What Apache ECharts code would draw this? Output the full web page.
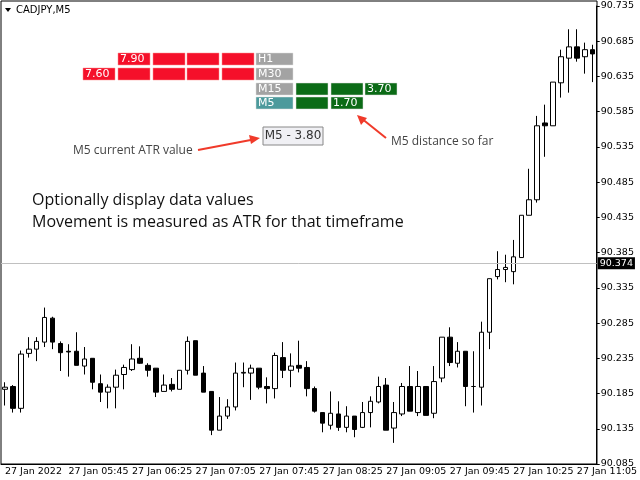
<!DOCTYPE html>
<html>
<head>
  <meta charset="utf-8">
  <title>CADJPY M5</title>
  <script src="https://cdn.jsdelivr.net/npm/echarts@6/dist/echarts.min.js"></script>
  <style>
    html,body { margin:0; padding:0; background:#fff; }
  </style>
</head>
<body>
  <div id="main" style="width:640px;height:480px;"></div>
  <script>
    // candle data: [open, close, low, high]
    var candles = [
      [90.191,90.194,90.168,90.201],[90.195,90.164,90.158,90.197],[90.164,90.241,90.158,90.246],
      [90.242,90.248,90.236,90.265],[90.248,90.259,90.231,90.265],[90.258,90.293,90.251,90.307],
      [90.292,90.258,90.248,90.294],[90.256,90.243,90.217,90.259],[90.245,90.244,90.209,90.255],
      [90.245,90.225,90.225,90.272],[90.224,90.234,90.212,90.251],[90.235,90.201,90.191,90.235],
      [90.199,90.187,90.173,90.212],[90.187,90.194,90.164,90.198],[90.194,90.211,90.164,90.219],
      [90.212,90.222,90.191,90.226],[90.219,90.234,90.217,90.255],[90.235,90.228,90.227,90.252],
      [90.225,90.218,90.209,90.228],[90.221,90.187,90.180,90.221],[90.188,90.197,90.188,90.212],
      [90.198,90.191,90.188,90.207],[90.191,90.218,90.191,90.218],[90.218,90.259,90.212,90.266],
      [90.260,90.211,90.211,90.260],[90.214,90.187,90.187,90.224],[90.188,90.133,90.126,90.188],
      [90.133,90.153,90.133,90.180],[90.153,90.166,90.149,90.177],[90.166,90.214,90.161,90.229],
      [90.214,90.215,90.194,90.229],[90.214,90.221,90.176,90.226],[90.221,90.194,90.191,90.221],
      [90.195,90.192,90.171,90.208],[90.192,90.239,90.178,90.243],[90.236,90.218,90.207,90.258],
      [90.218,90.224,90.194,90.242],[90.225,90.221,90.215,90.260],[90.222,90.192,90.181,90.231],
      [90.192,90.160,90.158,90.195],[90.158,90.143,90.130,90.158],[90.140,90.157,90.134,90.188],
      [90.156,90.137,90.132,90.174],[90.137,90.153,90.130,90.167],[90.153,90.134,90.123,90.153],
      [90.137,90.158,90.136,90.173],[90.158,90.174,90.137,90.181],[90.173,90.195,90.171,90.209],
      [90.197,90.133,90.133,90.207],[90.136,90.158,90.115,90.173],[90.156,90.195,90.153,90.200],
      [90.195,90.160,90.160,90.224],[90.158,90.195,90.153,90.217],[90.195,90.154,90.154,90.195],
      [90.157,90.202,90.150,90.224],[90.207,90.265,90.201,90.265],[90.265,90.229,90.224,90.279],
      [90.228,90.245,90.222,90.258],[90.245,90.195,90.167,90.245],[90.195,90.195,90.158,90.245],
      [90.194,90.272,90.168,90.287],[90.272,90.348,90.248,90.348],[90.351,90.361,90.347,90.387],
      [90.361,90.364,90.343,90.382],[90.358,90.379,90.340,90.403],[90.378,90.438,90.378,90.438],
      [90.438,90.460,90.438,90.504],[90.460,90.565,90.456,90.579],[90.569,90.565,90.521,90.595],
      [90.565,90.627,90.565,90.627],[90.626,90.663,90.605,90.673],[90.661,90.677,90.612,90.702],
      [90.677,90.661,90.656,90.702],[90.663,90.673,90.639,90.683],[90.673,90.667,90.627,90.680]
    ];
    var timeLabels = ['27 Jan 2022','27 Jan 05:45','27 Jan 06:25','27 Jan 07:05','27 Jan 07:45',
      '27 Jan 08:25','27 Jan 09:05','27 Jan 09:45','27 Jan 10:25','27 Jan 11:05'];
    var priceTicks = [90.085,90.135,90.185,90.235,90.285,90.335,90.385,90.435,90.485,90.535,90.585,90.635,90.685,90.735];
    var levelPrice = 90.374;

    // one category per candle, labelled every 8th
    var categories = [];
    for (var i = 0; i < candles.length; i++) {
      categories.push(i % 8 === 0 ? timeLabels[i / 8] : '');
    }

    var red = '#f5102a', grey = '#a3a3a3', green = '#0b6b16', teal = '#4c9a9c';
    var graphics = [];
    function box(x, w, y, fill, txt) {
      graphics.push({
        type: 'rect', shape: { x: x, y: y, width: w, height: 12 },
        style: { fill: fill, stroke: fill === red ? '#ff9090' : '#ddd', lineWidth: 0.5 }, z: 10
      });
      if (txt) {
        graphics.push({ type: 'text', x: x + 2, y: y + 6.5,
          style: { text: txt, fill: '#fff', font: '11px "DejaVu Sans"', verticalAlign: 'middle' }, z: 11 });
      }
    }
    var redXs = [118, 153, 187, 222];
    redXs.forEach(function (x, k) { box(x, 32, 53, red, k === 0 ? '7.90' : ''); });
    box(83, 32, 68, red, '7.60');
    redXs.forEach(function (x) { box(x, 32, 68, red); });
    box(256, 37, 53, grey, 'H1');
    box(256, 37, 68, grey, 'M30');
    box(256, 37, 83, grey, 'M15');
    box(296, 32, 83, green); box(331, 32, 83, green); box(365, 32, 83, green, '3.70');
    box(256, 37, 97, teal, 'M5');
    box(296, 32, 97, green); box(331, 32, 97, green, '1.70');
    graphics.push(
      { type: 'rect', shape: { x: 263, y: 127, width: 60, height: 18 }, style: { fill: '#f0f0f4', stroke: '#888' }, z: 10 },
      { type: 'text', x: 293, y: 136, style: { text: 'M5 - 3.80', fill: '#333', font: '12px "DejaVu Sans"', align: 'center', verticalAlign: 'middle' }, z: 11 },
      { type: 'text', x: 73, y: 151, style: { text: 'M5 current ATR value', fill: '#444', font: '12px "Open Sans"', verticalAlign: 'middle' }, z: 11 },
      { type: 'text', x: 391, y: 142, style: { text: 'M5 distance so far', fill: '#444', font: '12px "Open Sans"', verticalAlign: 'middle' }, z: 11 },
      { type: 'line', shape: { x1: 198, y1: 150, x2: 256, y2: 139 }, style: { stroke: '#f03a2a', lineWidth: 2 }, z: 11 },
      { type: 'polygon', shape: { points: [[260, 138], [249, 135], [251, 144]] }, style: { fill: '#f03a2a' }, z: 11 },
      { type: 'line', shape: { x1: 386, y1: 138, x2: 361, y2: 118 }, style: { stroke: '#f03a2a', lineWidth: 2 }, z: 11 },
      { type: 'polygon', shape: { points: [[357, 115], [361, 125], [367, 118]] }, style: { fill: '#f03a2a' }, z: 11 },
      { type: 'text', x: 32, y: 200, style: { text: 'Optionally display data values', fill: '#111', font: '16px "Open Sans"', verticalAlign: 'middle' }, z: 11 },
      { type: 'text', x: 32, y: 222, style: { text: 'Movement is measured as ATR for that timeframe', fill: '#111', font: '16px "Open Sans"', verticalAlign: 'middle' }, z: 11 },
      { type: 'polygon', shape: { points: [[5, 8], [11, 8], [8, 12]] }, style: { fill: '#000' }, z: 11 },
      { type: 'text', x: 16, y: 10, style: { text: 'CADJPY,M5', fill: '#000', font: '10px "DejaVu Sans"', verticalAlign: 'middle' }, z: 11 },
      { type: 'rect', shape: { x: 1, y: 1, width: 596, height: 463 }, style: { fill: 'none', stroke: '#000', lineWidth: 1 }, z: 1 }
    );

    var chart = echarts.init(document.getElementById('main'));
    chart.setOption({
      animation: false,
      backgroundColor: '#fff',
      grid: { left: 1, right: 43, top: 6, bottom: 16 },
      xAxis: {
        type: 'category', data: categories, boundaryGap: true,
        axisLine: { lineStyle: { color: '#000' } },
        axisTick: { interval: function (i) { return i % 8 === 0; }, alignWithLabel: true, length: 4, lineStyle: { color: '#000' } },
        axisLabel: { interval: function (i) { return i % 8 === 0; }, color: '#000', fontFamily: 'DejaVu Sans', fontSize: 9.5, margin: 3, align: 'left' },
        splitLine: { show: false }
      },
      yAxis: {
        type: 'value', position: 'right', min: 90.085, max: 90.735, scale: true,
        axisLine: { show: true, lineStyle: { color: '#000' } },
        axisTick: { show: true, customValues: priceTicks, length: 3, inside: false, lineStyle: { color: '#000' } },
        axisLabel: { customValues: priceTicks, color: '#000', fontFamily: 'DejaVu Sans', fontSize: 9.5, margin: 4,
          formatter: function (v) { return v.toFixed(3); } },
        splitLine: { show: false }
      },
      series: [{
        type: 'candlestick', data: candles, barWidth: 5,
        itemStyle: { color: '#fff', color0: '#000', borderColor: '#000', borderColor0: '#000', borderWidth: 1 },
        markLine: {
          symbol: 'none', silent: true,
          lineStyle: { color: '#c0c0c0', type: 'solid', width: 1 },
          label: { position: 'end', formatter: levelPrice.toFixed(3), backgroundColor: '#000', color: '#fff',
            fontFamily: 'DejaVu Sans', fontSize: 9.5, padding: [1, 2], distance: 1 },
          data: [{ yAxis: levelPrice }]
        }
      }],
      graphic: graphics
    });
  </script>
</body>
</html>
